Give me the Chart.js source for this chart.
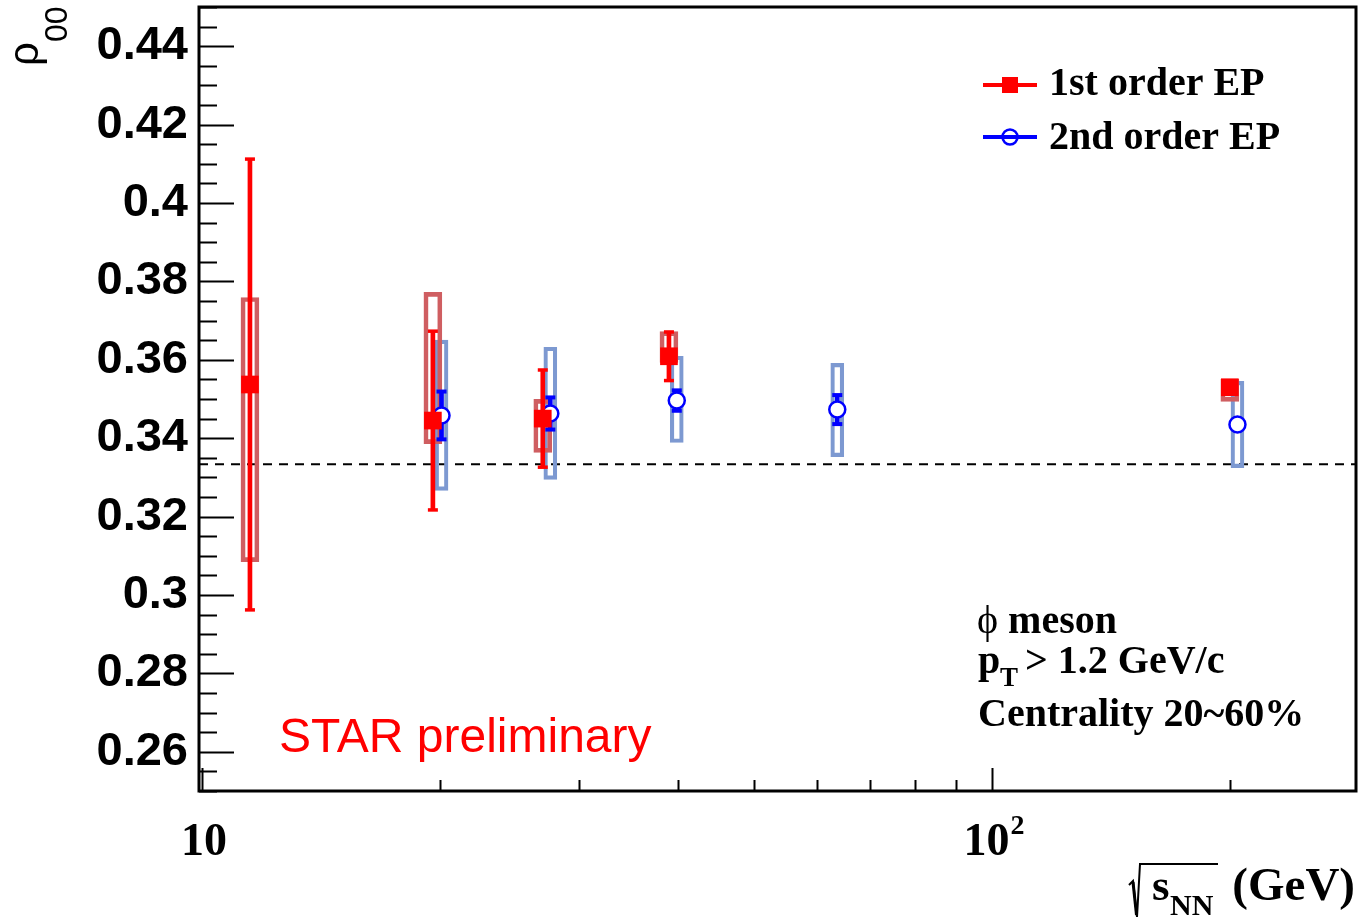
<!DOCTYPE html>
<html>
<head>
<meta charset="utf-8">
<title>rho00 vs sqrt(sNN)</title>
<script src="https://cdn.jsdelivr.net/npm/chart.js@4.4.1/dist/chart.umd.min.js"></script>
<style>
  html, body { margin: 0; padding: 0; background: #fff; }
</style>
</head>
<body>
<canvas id="chart" width="1364" height="919"></canvas>
<script>
// axis ranges and tick labels
const xRange = [9.913, 288.9];
const yRange = [0.25, 0.45];
const yTickValues = [0.26, 0.28, 0.30, 0.32, 0.34, 0.36, 0.38, 0.40, 0.42, 0.44];
const xLabelValues = [10, 100];
const xLabelBase = ['10', '10'];
const xLabelSup = ['', '2'];

// 1st order EP (red)
const redX = [11.5, 19.6, 27, 39, 200];
const redY = [0.3537, 0.3445, 0.3450, 0.3609, 0.3530];
const redStat = [0.0575, 0.0228, 0.0124, 0.0062, 0.0008];
const redSysLo = [0.3085, 0.3386, 0.3364, 0.3593, 0.3494];
const redSysHi = [0.3759, 0.3772, 0.3499, 0.3672, 0.3550];

// 2nd order EP (blue), drawn slightly shifted in x
const blueX = [20.1, 27.6, 39.9, 63.7, 204.5];
const blueY = [0.3458, 0.3463, 0.3496, 0.3473, 0.3435];
const blueStat = [0.0061, 0.0041, 0.0026, 0.0037, 0.0008];
const blueSysLo = [0.3267, 0.3295, 0.3389, 0.3353, 0.3325];
const blueSysHi = [0.3650, 0.3632, 0.3609, 0.3591, 0.3545];

const refLine = 1 / 3;

const RED = 'rgb(255,0,0)';
const BLUE = 'rgb(0,0,255)';
const RED_BOX = 'rgb(207,94,97)';
const BLUE_BOX = 'rgb(125,153,209)';

const pts = (xs, ys) => xs.map((x, i) => ({ x, y: ys[i] }));
const statBars = (xs, ys, es) => xs.map((x, i) => ({ x, y: [ys[i] - es[i], ys[i] + es[i]] }));
const caps = (xs, ys, es) => xs.flatMap((x, i) => [{ x, y: ys[i] - es[i] }, { x, y: ys[i] + es[i] }]);
const sysBars = (xs, lo, hi) => xs.map((x, i) => ({ x, y: [lo[i], hi[i]] }));

const serif = '"Liberation Serif", "Times New Roman", serif';
const sans = '"Liberation Sans", Arial, sans-serif';

const decor = {
  id: 'decor',
  afterDraw(chart) {
    const { ctx, chartArea: a, scales: { x, y } } = chart;
    ctx.save();
    ctx.strokeStyle = '#000';
    ctx.fillStyle = '#000';

    // frame
    ctx.lineWidth = 3;
    ctx.strokeRect(a.left, a.top, a.right - a.left, a.bottom - a.top);

    // y ticks, inside the frame
    ctx.lineWidth = 2;
    ctx.beginPath();
    for (let k = 0; k <= 40; k++) {
      const py = Math.round(y.getPixelForValue(yRange[0] + k * 0.005)) + 0.5;
      const len = (k - 2) % 4 === 0 ? 35 : 18;
      ctx.moveTo(a.left, py);
      ctx.lineTo(a.left + len, py);
    }
    // x ticks
    for (const d of [10, 100]) {
      for (let m = 1; m <= 9; m++) {
        const v = d * m;
        if (v < xRange[0] || v > xRange[1]) continue;
        const px = Math.round(x.getPixelForValue(v)) + 0.5;
        const len = m === 1 ? 23 : 11;
        ctx.moveTo(px, a.bottom);
        ctx.lineTo(px, a.bottom - len);
      }
    }
    ctx.stroke();

    // x tick labels
    ctx.textBaseline = 'alphabetic';
    ctx.textAlign = 'left';
    xLabelValues.forEach((v, i) => {
      ctx.font = 'bold 46px ' + serif;
      const wb = ctx.measureText(xLabelBase[i]).width;
      ctx.font = 'bold 28px ' + serif;
      const ws = xLabelSup[i] ? ctx.measureText(xLabelSup[i]).width + 1 : 0;
      const left = x.getPixelForValue(v) - (wb + ws) / 2 + 2;
      ctx.font = 'bold 46px ' + serif;
      ctx.fillText(xLabelBase[i], left, 855);
      if (xLabelSup[i]) {
        ctx.font = 'bold 28px ' + serif;
        ctx.fillText(xLabelSup[i], left + wb + 1, 834);
      }
    });

    // x axis title: sqrt(s_NN) (GeV)
    ctx.lineWidth = 2;
    ctx.beginPath();
    ctx.moveTo(1129, 885);
    ctx.lineTo(1133, 881);
    ctx.lineTo(1137, 917);
    ctx.lineTo(1140, 864);
    ctx.lineTo(1218, 864);
    ctx.stroke();
    ctx.lineWidth = 3;
    ctx.beginPath();
    ctx.moveTo(1133, 882);
    ctx.lineTo(1136.5, 915);
    ctx.stroke();
    ctx.font = 'bold 45px ' + serif;
    ctx.fillText('s', 1152, 900);
    ctx.font = 'bold 30px ' + serif;
    ctx.fillText('NN', 1170, 915);
    ctx.font = 'bold 47px ' + serif;
    ctx.textAlign = 'right';
    ctx.fillText('(GeV)', 1355, 900);

    // y axis title: rho_00
    ctx.save();
    ctx.translate(38, 66);
    ctx.rotate(-Math.PI / 2);
    ctx.textAlign = 'left';
    ctx.font = '42px ' + sans;
    ctx.fillText('\u03C1', 0, 0);
    const wr = ctx.measureText('\u03C1').width;
    ctx.font = '32px ' + sans;
    ctx.fillText('00', wr, 29);
    ctx.restore();

    // legend
    ctx.textAlign = 'left';
    ctx.lineWidth = 4;
    ctx.strokeStyle = RED;
    ctx.beginPath();
    ctx.moveTo(983, 85);
    ctx.lineTo(1037, 85);
    ctx.stroke();
    ctx.fillStyle = RED;
    ctx.fillRect(1002, 77, 16, 16);
    ctx.strokeStyle = BLUE;
    ctx.beginPath();
    ctx.moveTo(983, 137);
    ctx.lineTo(1037, 137);
    ctx.stroke();
    ctx.lineWidth = 2.5;
    ctx.beginPath();
    ctx.arc(1010, 137, 7.5, 0, Math.PI * 2);
    ctx.stroke();
    ctx.fillStyle = '#000';
    ctx.font = 'bold 40px ' + serif;
    ctx.fillText('1st order EP', 1049, 95);
    ctx.fillText('2nd order EP', 1049, 149);

    // labels
    ctx.font = '40px ' + serif;
    ctx.fillText('\u03D5', 977, 633);
    const wphi = ctx.measureText('\u03D5 ').width;
    ctx.font = 'bold 40px ' + serif;
    ctx.fillText('meson', 977 + wphi, 633);
    ctx.fillText('p', 978, 673);
    ctx.font = 'bold 27px ' + serif;
    ctx.fillText('T', 1000, 686);
    ctx.font = 'bold 40px ' + serif;
    ctx.fillText('> 1.2 GeV/c', 1025, 673);
    ctx.fillText('Centrality 20~60%', 978, 726);

    ctx.fillStyle = RED;
    ctx.font = '48px ' + sans;
    ctx.fillText('STAR preliminary', 279, 752);
    ctx.restore();
  }
};

new Chart(document.getElementById('chart'), {
  type: 'scatter',
  data: {
    datasets: [
      {
        label: '1st order EP',
        data: pts(redX, redY),
        pointStyle: 'rect',
        pointRadius: 12.5,
        backgroundColor: RED,
        borderWidth: 0,
        order: 1
      },
      {
        data: caps(redX, redY, redStat),
        pointStyle: 'line',
        pointRadius: 5,
        borderColor: RED,
        borderWidth: 3.5,
        order: 2
      },
      {
        type: 'bar',
        data: statBars(redX, redY, redStat),
        barThickness: 4,
        grouped: false,
        backgroundColor: RED,
        order: 3
      },
      {
        label: '2nd order EP',
        data: pts(blueX, blueY),
        pointStyle: 'circle',
        pointRadius: 8,
        borderColor: BLUE,
        borderWidth: 2.5,
        backgroundColor: '#fff',
        order: 4
      },
      {
        data: caps(blueX, blueY, blueStat),
        pointStyle: 'line',
        pointRadius: 5,
        borderColor: BLUE,
        borderWidth: 4,
        order: 5
      },
      {
        type: 'bar',
        data: statBars(blueX, blueY, blueStat),
        barThickness: 4,
        grouped: false,
        backgroundColor: BLUE,
        order: 6
      },
      {
        type: 'bar',
        data: sysBars(redX, redSysLo, redSysHi),
        barThickness: 18,
        grouped: false,
        borderWidth: 4,
        borderSkipped: false,
        borderColor: RED_BOX,
        backgroundColor: 'rgba(0,0,0,0)',
        order: 7
      },
      {
        type: 'bar',
        data: sysBars(blueX, blueSysLo, blueSysHi),
        barThickness: 13,
        grouped: false,
        borderWidth: 3.5,
        borderSkipped: false,
        borderColor: BLUE_BOX,
        backgroundColor: 'rgba(0,0,0,0)',
        order: 8
      },
      {
        type: 'line',
        data: [{ x: xRange[0], y: refLine }, { x: xRange[1], y: refLine }],
        borderColor: '#000',
        borderWidth: 2,
        borderDash: [9, 7],
        pointRadius: 0,
        order: 9
      }
    ]
  },
  options: {
    responsive: false,
    animation: false,
    events: [],
    layout: { autoPadding: false, padding: { left: 0, top: 7, right: 8, bottom: 128 } },
    plugins: { legend: { display: false }, tooltip: { enabled: false } },
    scales: {
      x: {
        type: 'logarithmic',
        min: xRange[0],
        max: xRange[1],
        offset: false,
        display: false
      },
      y: {
        type: 'linear',
        min: yRange[0],
        max: yRange[1],
        grid: { display: false, drawTicks: false },
        border: { display: false },
        ticks: {
          color: '#000',
          padding: 11,
          autoSkip: false,
          font: { family: 'Liberation Sans', size: 47, weight: 'bold' },
          callback: v => String(Number(v.toFixed(3)))
        },
        afterBuildTicks: s => { s.ticks = yTickValues.map(v => ({ value: v })); },
        afterFit: s => { s.width = 199; s.paddingTop = 0; s.paddingBottom = 0; }
      }
    }
  },
  plugins: [decor]
});
</script>
</body>
</html>
